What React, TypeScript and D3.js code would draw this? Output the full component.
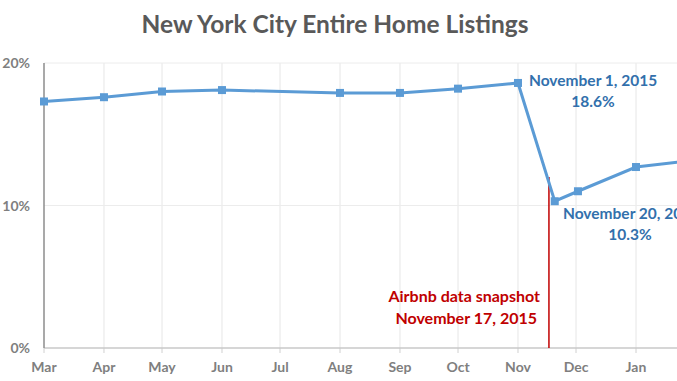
import React from "react";
import * as d3 from "d3";

const dates = ["2015-03-01","2015-04-01","2015-05-01","2015-06-01","2015-08-01","2015-09-01","2015-10-01","2015-11-01","2015-11-20","2015-12-02","2016-01-01","2016-02-01"];
const values = [17.3, 17.6, 18.0, 18.1, 17.9, 17.9, 18.2, 18.6, 10.3, 11.0, 12.7, 13.2];
const monthTicks = ["2015-03-01","2015-04-01","2015-05-01","2015-06-01","2015-07-01","2015-08-01","2015-09-01","2015-10-01","2015-11-01","2015-12-01","2016-01-01"];
const monthLabels = ["Mar","Apr","May","Jun","Jul","Aug","Sep","Oct","Nov","Dec","Jan"];
const yTicks = [0, 10, 20];
const snapshotDate = "2015-11-17";

const W = 677, H = 381;
const FONT = "Lato, 'Open Sans', sans-serif";

export default function App() {
  const p = (s: string) => d3.timeParse("%Y-%m-%d")(s) as Date;
  const x = d3.scaleTime().domain([p("2015-03-01"), p("2016-01-01")]).range([44, 636]);
  const y = d3.scaleLinear().domain([0, 20]).range([348, 63]);
  const data = dates.map((d, i) => ({ d: p(d), v: values[i] }));
  const line = d3.line<{ d: Date; v: number }>().x(a => x(a.d)).y(a => y(a.v));
  const sx = x(p(snapshotDate));
  const lineBlue = "#5b9bd5";
  const textBlue = "#3270ac";
  const red = "#c00000";
  return (
    <svg width={W} height={H} style={{ position: "absolute", left: 0, top: 0, background: "#fff" }}>
      <text x={335} y={33} textAnchor="middle" fontFamily={FONT} fontWeight="bold" fontSize={24.5} fill="#595959">New York City Entire Home Listings</text>
      {monthTicks.map((t, i) => (
        <g key={t}>
          {i > 0 && <line x1={x(p(t))} x2={x(p(t))} y1={y(20)} y2={y(0)} stroke="#e6e6e6" strokeWidth={1} />}
          <line x1={x(p(t))} x2={x(p(t))} y1={y(0)} y2={y(0) + 5} stroke="#d0d0d0" strokeWidth={1} />
          <text x={x(p(t))} y={372} textAnchor="middle" fontFamily={FONT} fontWeight="bold" fontSize={14} fill="#7f7f7f">{monthLabels[i]}</text>
        </g>
      ))}
      {yTicks.map(t => (
        <g key={t}>
          {t > 0 && <line x1={44} x2={W} y1={y(t)} y2={y(t)} stroke="#ececec" strokeWidth={1} />}
          <text x={30} y={y(t) + 5} textAnchor="end" fontFamily={FONT} fontWeight="bold" fontSize={14} fill="#7f7f7f">{t}%</text>
        </g>
      ))}
      <line x1={44} x2={W} y1={y(0)} y2={y(0)} stroke="#c8c8c8" strokeWidth={1.5} />
      <line x1={44} x2={44} y1={y(20)} y2={y(0)} stroke="#8c8c8c" strokeWidth={1.5} />
      <line x1={sx} x2={sx} y1={y(12)} y2={y(0)} stroke={red} strokeWidth={1.5} />
      <path d={line(data) || ""} fill="none" stroke={lineBlue} strokeWidth={3} />
      {data.map((a, i) => (
        <rect key={i} x={x(a.d) - 4} y={y(a.v) - 4} width={8} height={8} fill={lineBlue} />
      ))}
      <text x={529} y={86} fontFamily={FONT} fontWeight="bold" fontSize={15.5} fill={textBlue}>November 1, 2015</text>
      <text x={593} y={107} textAnchor="middle" fontFamily={FONT} fontWeight="bold" fontSize={15.5} fill={textBlue}>18.6%</text>
      <text x={563} y={219} fontFamily={FONT} fontWeight="bold" fontSize={15.5} fill={textBlue}>November 20, 2015</text>
      <text x={630} y={240} textAnchor="middle" fontFamily={FONT} fontWeight="bold" fontSize={15.5} fill={textBlue}>10.3%</text>
      <text x={540} y={302} textAnchor="end" fontFamily={FONT} fontWeight="bold" fontSize={16} fill={red}>Airbnb data snapshot</text>
      <text x={537} y={324} textAnchor="end" fontFamily={FONT} fontWeight="bold" fontSize={16} fill={red}>November 17, 2015</text>
    </svg>
  );
}
